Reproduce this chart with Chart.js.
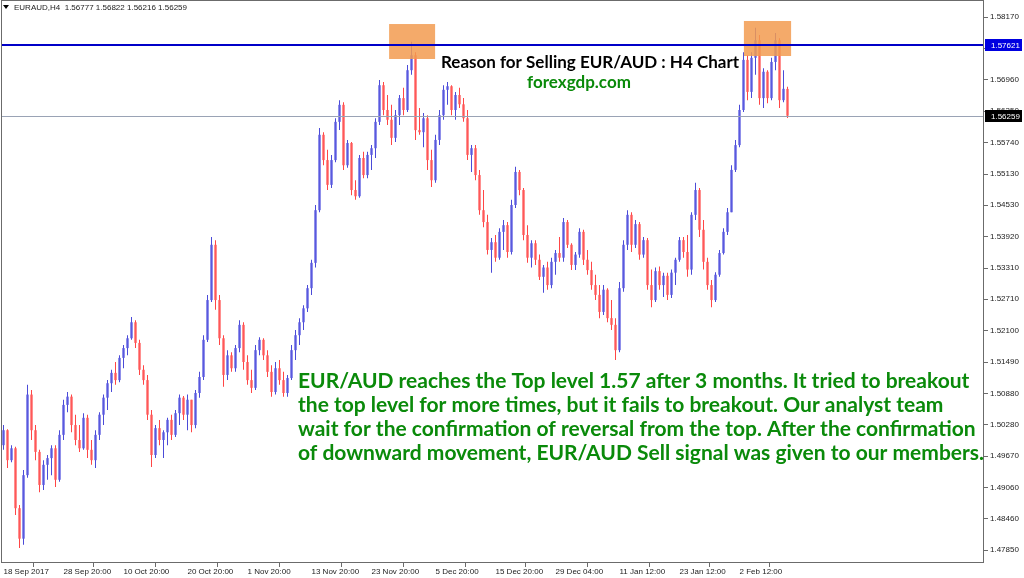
<!DOCTYPE html>
<html>
<head>
<meta charset="utf-8">
<script src="https://cdn.jsdelivr.net/npm/chart.js@4.4.0/dist/chart.umd.min.js"></script>
<style>
  html, body { margin: 0; padding: 0; background: #fff; }
  #wrap { position: relative; width: 1024px; height: 578px; }
</style>
</head>
<body>
<div id="wrap"><canvas id="chart"></canvas></div>
<script>
// EURAUD H4, one entry per bar
const opens = [
  1.4988, 1.5017, 1.4959, 1.4982, 1.4866, 1.4807, 1.4930, 1.5086, 1.5017, 1.4975,
  1.4911, 1.4950, 1.4963, 1.4982, 1.4921, 1.5008, 1.5066, 1.5082, 1.5027, 1.4998,
  1.4982, 1.5041, 1.4979, 1.4959, 1.5008, 1.5047, 1.5080, 1.5108, 1.5128, 1.5114,
  1.5157, 1.5176, 1.5195, 1.5226, 1.5186, 1.5134, 1.5114, 1.5047, 1.4969, 1.5021,
  1.4998, 1.5013, 1.5037, 1.5008, 1.5050, 1.5080, 1.5047, 1.5076, 1.5027, 1.5089,
  1.5120, 1.5192, 1.5269, 1.5376, 1.5269, 1.5195, 1.5124, 1.5162, 1.5137, 1.5176,
  1.5221, 1.5149, 1.5114, 1.5099, 1.5172, 1.5192, 1.5162, 1.5130, 1.5091, 1.5137,
  1.5114, 1.5089, 1.5118, 1.5172, 1.5201, 1.5226, 1.5253, 1.5292, 1.5341, 1.5443,
  1.5589, 1.5540, 1.5492, 1.5540, 1.5614, 1.5647, 1.5530, 1.5573, 1.5482, 1.5470,
  1.5544, 1.5511, 1.5550, 1.5563, 1.5614, 1.5685, 1.5637, 1.5618, 1.5583, 1.5627,
  1.5660, 1.5637, 1.5714, 1.5743, 1.5598, 1.5594, 1.5621, 1.5540, 1.5501, 1.5579,
  1.5627, 1.5676, 1.5683, 1.5637, 1.5666, 1.5648, 1.5621, 1.5550, 1.5563, 1.5511,
  1.5443, 1.5420, 1.5366, 1.5381, 1.5351, 1.5401, 1.5414, 1.5362, 1.5453, 1.5517,
  1.5482, 1.5395, 1.5351, 1.5379, 1.5347, 1.5314, 1.5332, 1.5298, 1.5343, 1.5360,
  1.5351, 1.5420, 1.5376, 1.5337, 1.5357, 1.5401, 1.5347, 1.5327, 1.5298, 1.5279,
  1.5246, 1.5289, 1.5234, 1.5221, 1.5172, 1.5292, 1.5376, 1.5434, 1.5376, 1.5416,
  1.5357, 1.5385, 1.5298, 1.5269, 1.5325, 1.5298, 1.5316, 1.5279, 1.5322, 1.5347,
  1.5385, 1.5362, 1.5328, 1.5434, 1.5482, 1.5405, 1.5343, 1.5298, 1.5269, 1.5318,
  1.5360, 1.5401, 1.5439, 1.5521, 1.5569, 1.5637, 1.5734, 1.5672, 1.5738, 1.5772,
  1.5660, 1.5711, 1.5660, 1.5730, 1.5772, 1.5656, 1.56777
];
const highs = [
  1.5027, 1.5019, 1.4988, 1.4985, 1.4872, 1.4940, 1.5105, 1.5095, 1.5027, 1.4979,
  1.4959, 1.4969, 1.4988, 1.4988, 1.5017, 1.5076, 1.5091, 1.5086, 1.5047, 1.5027,
  1.5050, 1.5047, 1.4998, 1.5017, 1.5052, 1.5086, 1.5114, 1.5134, 1.5149, 1.5162,
  1.5182, 1.5201, 1.5236, 1.5230, 1.5192, 1.5143, 1.5124, 1.5056, 1.5027, 1.5037,
  1.5017, 1.5041, 1.5047, 1.5056, 1.5086, 1.5083, 1.5086, 1.5076, 1.5095, 1.5130,
  1.5201, 1.5279, 1.5391, 1.5385, 1.5279, 1.5201, 1.5172, 1.5168, 1.5182, 1.5230,
  1.5226, 1.5162, 1.5134, 1.5182, 1.5197, 1.5195, 1.5172, 1.5143, 1.5149, 1.5153,
  1.5130, 1.5124, 1.5182, 1.5211, 1.5234, 1.5259, 1.5298, 1.5347, 1.5453, 1.5602,
  1.5594, 1.5560, 1.5550, 1.5621, 1.5656, 1.5652, 1.5579, 1.5575, 1.5501, 1.5550,
  1.5556, 1.5556, 1.5569, 1.5621, 1.5695, 1.5691, 1.5666, 1.5647, 1.5637, 1.5666,
  1.5680, 1.5724, 1.5769, 1.5749, 1.5641, 1.5631, 1.5627, 1.5560, 1.5589, 1.5637,
  1.5685, 1.5691, 1.5685, 1.5672, 1.5680, 1.5660, 1.5637, 1.5569, 1.5569, 1.5521,
  1.5482, 1.5434, 1.5389, 1.5395, 1.5408, 1.5424, 1.5420, 1.5463, 1.5527, 1.5521,
  1.5486, 1.5414, 1.5385, 1.5385, 1.5357, 1.5337, 1.5343, 1.5351, 1.5366, 1.5391,
  1.5428, 1.5424, 1.5379, 1.5362, 1.5408, 1.5405, 1.5366, 1.5343, 1.5318, 1.5298,
  1.5298, 1.5292, 1.5269, 1.5234, 1.5304, 1.5385, 1.5443, 1.5439, 1.5424, 1.5420,
  1.5391, 1.5389, 1.5328, 1.5332, 1.5334, 1.5322, 1.5322, 1.5328, 1.5351, 1.5391,
  1.5391, 1.5395, 1.5439, 1.5496, 1.5486, 1.5424, 1.5351, 1.5308, 1.5323, 1.5366,
  1.5408, 1.5447, 1.5530, 1.5579, 1.5647, 1.5749, 1.5743, 1.5749, 1.5796, 1.5782,
  1.5718, 1.5714, 1.5738, 1.5786, 1.5776, 1.5714, 1.56822
];
const lows = [
  1.4979, 1.4944, 1.4955, 1.4853, 1.4789, 1.4795, 1.4925, 1.4998, 1.4959, 1.4897,
  1.4901, 1.4921, 1.4930, 1.4907, 1.4917, 1.4998, 1.5052, 1.5013, 1.4988, 1.4975,
  1.4979, 1.4963, 1.4950, 1.4944, 1.4998, 1.5027, 1.5056, 1.5091, 1.5105, 1.5110,
  1.5137, 1.5162, 1.5192, 1.5176, 1.5124, 1.5105, 1.5037, 1.4946, 1.4963, 1.4988,
  1.4963, 1.4988, 1.4998, 1.5004, 1.5027, 1.5037, 1.5017, 1.5013, 1.5021, 1.5080,
  1.5114, 1.5188, 1.5265, 1.5250, 1.5182, 1.5101, 1.5114, 1.5130, 1.5130, 1.5168,
  1.5134, 1.5105, 1.5089, 1.5095, 1.5162, 1.5153, 1.5120, 1.5082, 1.5086, 1.5105,
  1.5082, 1.5082, 1.5114, 1.5153, 1.5182, 1.5211, 1.5246, 1.5279, 1.5332, 1.5439,
  1.5530, 1.5482, 1.5486, 1.5536, 1.5598, 1.5521, 1.5525, 1.5472, 1.5463, 1.5467,
  1.5505, 1.5505, 1.5521, 1.5544, 1.5608, 1.5627, 1.5608, 1.5569, 1.5575, 1.5608,
  1.5627, 1.5633, 1.5705, 1.5579, 1.5589, 1.5565, 1.5521, 1.5488, 1.5496, 1.5569,
  1.5618, 1.5647, 1.5627, 1.5618, 1.5641, 1.5614, 1.5540, 1.5517, 1.5501, 1.5434,
  1.5410, 1.5357, 1.5322, 1.5343, 1.5347, 1.5366, 1.5351, 1.5357, 1.5447, 1.5472,
  1.5385, 1.5341, 1.5332, 1.5337, 1.5308, 1.5283, 1.5289, 1.5292, 1.5318, 1.5343,
  1.5343, 1.5370, 1.5327, 1.5327, 1.5351, 1.5337, 1.5318, 1.5289, 1.5269, 1.5234,
  1.5240, 1.5226, 1.5211, 1.5153, 1.5168, 1.5285, 1.5366, 1.5362, 1.5370, 1.5347,
  1.5351, 1.5289, 1.5255, 1.5265, 1.5289, 1.5275, 1.5269, 1.5273, 1.5298, 1.5343,
  1.5351, 1.5314, 1.5318, 1.5424, 1.5391, 1.5328, 1.5289, 1.5255, 1.5265, 1.5314,
  1.5357, 1.5395, 1.5439, 1.5517, 1.5565, 1.5633, 1.5656, 1.5660, 1.5705, 1.5647,
  1.5641, 1.5650, 1.5656, 1.5714, 1.5641, 1.5652, 1.56216
];
const closes = [
  1.5017, 1.4959, 1.4982, 1.4866, 1.4807, 1.4930, 1.5086, 1.5017, 1.4975, 1.4911,
  1.4950, 1.4963, 1.4982, 1.4921, 1.5008, 1.5066, 1.5082, 1.5027, 1.4998, 1.4982,
  1.5041, 1.4979, 1.4959, 1.5008, 1.5047, 1.5080, 1.5108, 1.5128, 1.5114, 1.5157,
  1.5176, 1.5195, 1.5226, 1.5186, 1.5134, 1.5114, 1.5047, 1.4969, 1.5021, 1.4998,
  1.5013, 1.5037, 1.5008, 1.5050, 1.5080, 1.5047, 1.5076, 1.5027, 1.5089, 1.5120,
  1.5192, 1.5269, 1.5376, 1.5269, 1.5195, 1.5124, 1.5162, 1.5137, 1.5176, 1.5221,
  1.5149, 1.5114, 1.5099, 1.5172, 1.5192, 1.5162, 1.5130, 1.5091, 1.5137, 1.5114,
  1.5089, 1.5118, 1.5172, 1.5201, 1.5226, 1.5253, 1.5292, 1.5341, 1.5443, 1.5589,
  1.5540, 1.5492, 1.5540, 1.5614, 1.5647, 1.5530, 1.5573, 1.5482, 1.5470, 1.5544,
  1.5511, 1.5550, 1.5563, 1.5614, 1.5685, 1.5637, 1.5618, 1.5583, 1.5627, 1.5660,
  1.5637, 1.5714, 1.5743, 1.5598, 1.5594, 1.5621, 1.5540, 1.5501, 1.5579, 1.5627,
  1.5676, 1.5683, 1.5637, 1.5666, 1.5648, 1.5621, 1.5550, 1.5563, 1.5511, 1.5443,
  1.5420, 1.5366, 1.5381, 1.5351, 1.5401, 1.5414, 1.5362, 1.5453, 1.5517, 1.5482,
  1.5395, 1.5351, 1.5379, 1.5347, 1.5314, 1.5332, 1.5298, 1.5343, 1.5360, 1.5351,
  1.5420, 1.5376, 1.5337, 1.5357, 1.5401, 1.5347, 1.5327, 1.5298, 1.5279, 1.5246,
  1.5289, 1.5234, 1.5221, 1.5172, 1.5292, 1.5376, 1.5434, 1.5376, 1.5416, 1.5357,
  1.5385, 1.5298, 1.5269, 1.5325, 1.5298, 1.5316, 1.5279, 1.5322, 1.5347, 1.5385,
  1.5362, 1.5328, 1.5434, 1.5482, 1.5405, 1.5343, 1.5298, 1.5269, 1.5318, 1.5360,
  1.5401, 1.5439, 1.5521, 1.5569, 1.5637, 1.5734, 1.5672, 1.5738, 1.5772, 1.5660,
  1.5711, 1.5660, 1.5730, 1.5772, 1.5656, 1.5678, 1.56259
];

// price scale labels as MT4 prints them
const priceTicks = [
  1.58170, 1.57570, 1.56960, 1.56350, 1.55740, 1.55130, 1.54530, 1.53920, 1.53310,
  1.52710, 1.52100, 1.51490, 1.50880, 1.50280, 1.49670, 1.49060, 1.48460, 1.47850
];
// time scale labels and the bar each one belongs to
const timeTickBars = [0, 15, 30, 46, 61, 77, 92, 108, 123, 138, 154, 169, 184];
const timeTickLabels = [
  '18 Sep 2017', '28 Sep 20:00', '10 Oct 20:00', '20 Oct 20:00', '1 Nov 20:00',
  '13 Nov 20:00', '23 Nov 20:00', '5 Dec 20:00', '15 Dec 20:00', '29 Dec 04:00',
  '11 Jan 12:00', '23 Jan 12:00', '2 Feb 12:00'
];

const resistanceLevel = 1.57621;
const lastPrice = 1.56259;
// the two highlighted tops (bar range, price range)
const sellZones = [
  { from: 96.4, to: 107.9, top: 1.58034, bottom: 1.57357 },
  { from: 185.1, to: 196.9, top: 1.58093, bottom: 1.57415 },
];

const headerText = 'EURAUD,H4  1.56777 1.56822 1.56216 1.56259';
const titleText = 'Reason for Selling EUR/AUD : H4 Chart';
const siteText = 'forexgdp.com';
const noteLines = [
  'EUR/AUD reaches the Top level 1.57 after 3 months. It tried to breakout',
  'the top level for more times, but it fails to breakout. Our analyst team',
  'wait for the confirmation of reversal from the top. After the confirmation',
  'of downward movement, EUR/AUD Sell signal was given to our members.'
];

// ---------------------------------------------------------------------------

const UP = '#4b4bd8', DOWN = '#ff4646';
const UP_BODY = 'rgba(95,95,225,0.7)', DOWN_BODY = 'rgba(255,95,95,0.7)';
const isUp = closes.map((c, i) => c >= opens[i]);

const axisFont = { family: 'Liberation Sans', size: 8 };

const overlay = {
  id: 'overlay',
  afterDatasetsDraw(chart) {
    const { ctx, chartArea: a, scales: { x, y } } = chart;
    ctx.save();
    ctx.fillStyle = 'rgba(242,155,80,0.85)';
    sellZones.forEach(z => {
      const x0 = x.getPixelForValue(z.from), x1 = x.getPixelForValue(z.to);
      const y0 = y.getPixelForValue(z.top), y1 = y.getPixelForValue(z.bottom);
      ctx.fillRect(x0, y0, x1 - x0, y1 - y0);
    });

    const yl = Math.round(y.getPixelForValue(lastPrice)) + 0.5;
    ctx.strokeStyle = '#9aa3b5';
    ctx.lineWidth = 1;
    ctx.beginPath(); ctx.moveTo(a.left, yl); ctx.lineTo(a.right, yl); ctx.stroke();

    const yr = Math.round(y.getPixelForValue(resistanceLevel));
    ctx.strokeStyle = '#0000c8';
    ctx.lineWidth = 2;
    ctx.beginPath(); ctx.moveTo(a.left, yr); ctx.lineTo(a.right, yr); ctx.stroke();
    ctx.restore();
  },
  afterDraw(chart) {
    const { ctx, chartArea: a, scales: { y } } = chart;
    ctx.save();

    // frame
    ctx.strokeStyle = '#6b6b6b';
    ctx.lineWidth = 1;
    ctx.strokeRect(a.left - 0.5, a.top - 0.5, a.right - a.left, a.bottom - a.top);

    // price boxes on the right scale
    ctx.font = '8px "Liberation Sans"';
    ctx.textBaseline = 'middle';
    ctx.textAlign = 'left';
    [[resistanceLevel, '#0000e0'], [lastPrice, '#000000']].forEach(([v, bg]) => {
      const py = Math.round(y.getPixelForValue(v));
      ctx.fillStyle = bg;
      ctx.fillRect(a.right + 1, py - 6, 37, 12);
      ctx.fillStyle = '#ffffff';
      ctx.fillText(v.toFixed(5), a.right + 7, py + 0.5);
    });

    // symbol header
    ctx.fillStyle = '#000';
    ctx.beginPath();
    ctx.moveTo(3, 5); ctx.lineTo(9, 5); ctx.lineTo(6, 9); ctx.closePath(); ctx.fill();
    ctx.fillStyle = '#222';
    ctx.fillText(headerText, 14, 8);

    // annotations
    ctx.textAlign = 'center';
    ctx.fillStyle = '#000';
    ctx.font = 'bold 17px Lato';
    ctx.fillText(titleText, 590, 63);
    ctx.fillStyle = '#0a8a0a';
    ctx.fillText(siteText, 579, 83);

    ctx.textAlign = 'left';
    ctx.font = 'bold 21px Lato';
    noteLines.forEach((t, i) => ctx.fillText(t, 298, 381 + i * 24));
    ctx.restore();
  }
};

new Chart(document.getElementById('chart'), {
  type: 'bar',
  data: {
    datasets: [
      {
        data: highs.map((h, i) => ({ x: i, y: [lows[i], h] })),
        backgroundColor: isUp.map(u => u ? UP : DOWN),
        barThickness: 1,
        grouped: false,
        inflateAmount: 0,
        order: 2,
      },
      {
        data: opens.map((o, i) => ({ x: i, y: [o, closes[i]] })),
        backgroundColor: isUp.map(u => u ? UP_BODY : DOWN_BODY),
        barThickness: 3,
        minBarLength: 1,
        grouped: false,
        inflateAmount: 0,
        order: 1,
      },
    ],
  },
  options: {
    responsive: true,
    maintainAspectRatio: false,
    animation: false,
    layout: { padding: { left: 2, top: 1, right: 0, bottom: 0 } },
    plugins: { legend: { display: false }, tooltip: { enabled: false } },
    scales: {
      x: {
        type: 'linear',
        min: -0.375,
        max: 245.125,
        offset: false,
        border: { display: false },
        grid: { drawOnChartArea: false, drawTicks: true, tickLength: 4, color: '#6b6b6b' },
        afterBuildTicks: s => { s.ticks = timeTickBars.map(v => ({ value: v })); },
        afterFit: s => { s.height = 15; s.paddingLeft = 0; s.paddingRight = 0; },
        ticks: {
          autoSkip: false, maxRotation: 0, align: 'start', padding: 0,
          font: axisFont, color: '#222',
          callback: v => timeTickLabels[timeTickBars.indexOf(v)] || '',
        },
      },
      y: {
        position: 'right',
        min: 1.47599,
        max: 1.58480,
        border: { display: false },
        grid: { drawOnChartArea: false, drawTicks: true, tickLength: 4, color: '#6b6b6b' },
        afterBuildTicks: s => { s.ticks = priceTicks.map(v => ({ value: v })); },
        afterFit: s => { s.width = 40; s.paddingTop = 0; s.paddingBottom = 0; },
        ticks: {
          padding: 2, font: axisFont, color: '#222',
          callback: v => v.toFixed(5),
        },
      },
    },
  },
  plugins: [overlay],
});
</script>
</body>
</html>
